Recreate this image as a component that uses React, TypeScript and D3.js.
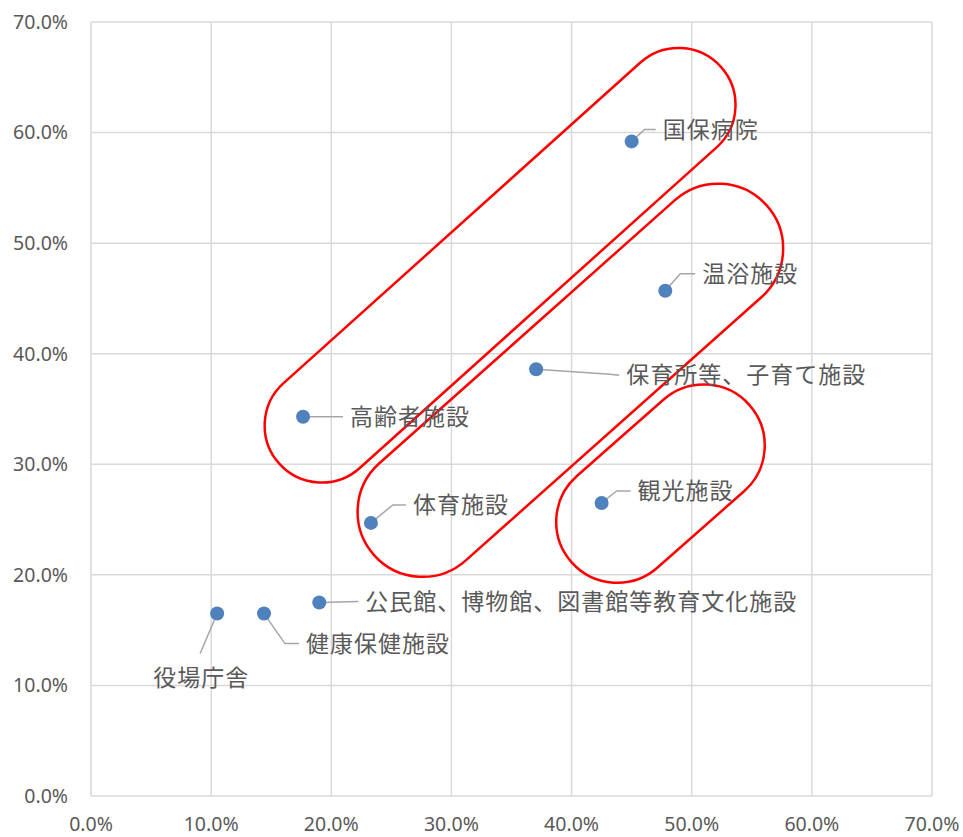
import React, { useEffect, useRef } from 'react';
import * as d3 from 'd3';

// facility names and their (x %, y %) values
const names = [
  '国保病院',
  '温浴施設',
  '保育所等、子育て施設',
  '高齢者施設',
  '体育施設',
  '観光施設',
  '公民館、博物館、図書館等教育文化施設',
  '健康保健施設',
  '役場庁舎',
];
const xValues = [45.0, 47.8, 37.05, 17.65, 23.3, 42.5, 19.0, 14.4, 10.5];
const yValues = [59.2, 45.7, 38.6, 34.3, 24.7, 26.5, 17.5, 16.5, 16.5];

const tickValues = [0, 10, 20, 30, 40, 50, 60, 70];

// red outline groups: two cap centres in data units
const groupStart: [number, number][] = [[19.2, 33.5], [27.6, 25.7], [43.8, 24.8]];
const groupEnd: [number, number][] = [[48.9, 62.5], [52.2, 49.5], [51.0, 31.7]];
const groupRadius = [57, 65, 61];

// label layout: elbow offset, label offset (px, relative to point)
const labelLayout = [
  { ex: 13, ey: -12, tx: 31, ty: -12 },
  { ex: 15, ey: -17, tx: 37, ty: -17 },
  { ex: 74, ey: 5, tx: 90, ty: 6 },
  { ex: 0, ey: 0, tx: 47, ty: 0 },
  { ex: 22, ey: -18, tx: 42, ty: -18 },
  { ex: 15, ey: -12, tx: 36, ty: -12 },
  { ex: 0, ey: 0, tx: 46, ty: -1 },
  { ex: 21, ey: 30, tx: 42, ty: 30 },
  { ex: -17, ey: 40, tx: -64, ty: 64 },
];

const App: React.FC = () => {
  const ref = useRef<SVGSVGElement>(null);

  useEffect(() => {
    if (!ref.current) return;
    const svg = d3.select(ref.current);
    svg.selectAll('*').remove();

    const x = d3.scaleLinear().domain([0, 70]).range([91, 932]);
    const y = d3.scaleLinear().domain([0, 70]).range([796, 22]);
    const grid = '#d9d9d9';
    const textColor = '#595959';
    const fmt = (v: number) => `${v.toFixed(1)}%`;

    const g = svg.append('g');

    g.selectAll('line.vg')
      .data(tickValues)
      .enter()
      .append('line')
      .attr('x1', (d) => x(d))
      .attr('x2', (d) => x(d))
      .attr('y1', y(0))
      .attr('y2', y(70))
      .attr('stroke', grid)
      .attr('stroke-width', 1.5);

    g.selectAll('line.hg')
      .data(tickValues)
      .enter()
      .append('line')
      .attr('x1', x(0))
      .attr('x2', x(70))
      .attr('y1', (d) => y(d))
      .attr('y2', (d) => y(d))
      .attr('stroke', grid)
      .attr('stroke-width', 1.5);

    g.selectAll('text.yt')
      .data(tickValues)
      .enter()
      .append('text')
      .attr('x', 68)
      .attr('y', (d) => y(d))
      .attr('dy', '0.35em')
      .attr('text-anchor', 'end')
      .attr('fill', textColor)
      .style('font-family', '"Noto Sans", sans-serif')
      .style('font-size', '19.5px')
      .text(fmt);

    g.selectAll('text.xt')
      .data(tickValues)
      .enter()
      .append('text')
      .attr('x', (d) => x(d))
      .attr('y', 831)
      .attr('text-anchor', 'middle')
      .attr('fill', textColor)
      .style('font-family', '"Noto Sans", sans-serif')
      .style('font-size', '19.5px')
      .text(fmt);

    // red group outlines
    groupStart.forEach((s, i) => {
      const e = groupEnd[i];
      const r = groupRadius[i];
      const x1 = x(s[0]);
      const y1 = y(s[1]);
      const x2 = x(e[0]);
      const y2 = y(e[1]);
      const len = Math.hypot(x2 - x1, y2 - y1);
      const ang = (Math.atan2(y2 - y1, x2 - x1) * 180) / Math.PI;
      g.append('rect')
        .attr('x', -len / 2 - r)
        .attr('y', -r)
        .attr('width', len + 2 * r)
        .attr('height', 2 * r)
        .attr('rx', r)
        .attr('ry', r)
        .attr('transform', `translate(${(x1 + x2) / 2},${(y1 + y2) / 2}) rotate(${ang})`)
        .attr('fill', 'none')
        .attr('stroke', '#ff0000')
        .attr('stroke-width', 2.5);
    });

    const pts = names.map((n, i) => ({ name: n, px: x(xValues[i]), py: y(yValues[i]), l: labelLayout[i] }));

    // leader lines
    pts.forEach((p) => {
      const l = p.l;
      const endX = l.tx < 0 ? p.px + l.ex : p.px + l.tx - 7;
      const endY = p.py + l.ty;
      const path = d3.path();
      path.moveTo(p.px, p.py);
      path.lineTo(p.px + l.ex, p.py + l.ey);
      if (l.tx >= 0) path.lineTo(endX, endY);
      g.append('path')
        .attr('d', path.toString())
        .attr('fill', 'none')
        .attr('stroke', '#a6a6a6')
        .attr('stroke-width', 1.5);
    });

    g.selectAll('circle')
      .data(pts)
      .enter()
      .append('circle')
      .attr('cx', (d) => d.px)
      .attr('cy', (d) => d.py)
      .attr('r', 7)
      .attr('fill', '#4f81bd');

    g.selectAll('text.lbl')
      .data(pts)
      .enter()
      .append('text')
      .attr('x', (d) => d.px + d.l.tx)
      .attr('y', (d) => d.py + d.l.ty)
      .attr('dy', '0.36em')
      .attr('fill', textColor)
      .style('font-family', '"Noto Sans CJK JP", sans-serif')
      .style('font-size', '23px')
      .style('letter-spacing', '1px')
      .text((d) => d.name);
  }, []);

  return (
    <div style={{ position: 'absolute', left: 0, top: 0, background: '#fff' }}>
      <svg ref={ref} width={963} height={837} />
    </div>
  );
};

export default App;
